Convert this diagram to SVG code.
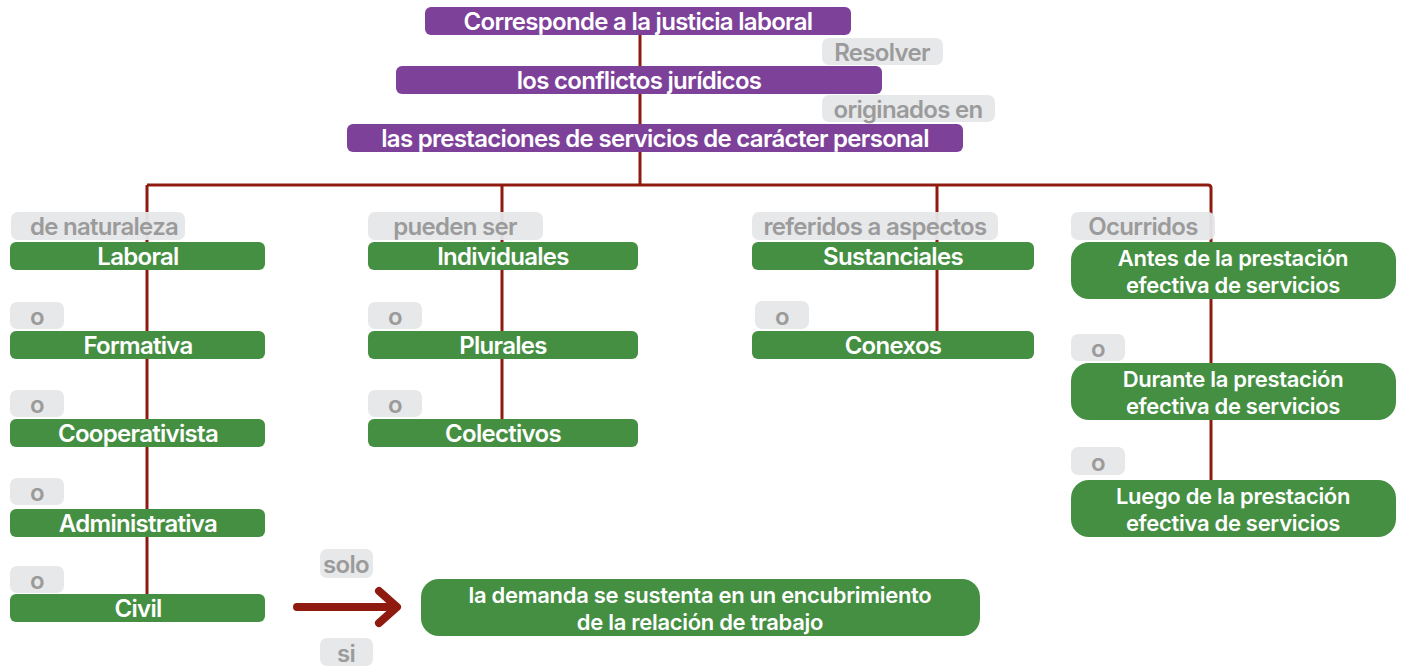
<svg xmlns="http://www.w3.org/2000/svg" width="1402" height="667" viewBox="0 0 1402 667">
<style>
text{font-family:Inter,"Noto Sans","DejaVu Sans",sans-serif;font-weight:600;font-size:24px;text-anchor:middle;letter-spacing:-0.7px}
text.m{font-size:22px;letter-spacing:-0.3px}
.p{fill:#7D4199}
.g{fill:#458F42}
.l{fill:#E6E7E9;opacity:0.95}
.w{fill:#fff}
.t{fill:#9B9B9B}
.c{fill:none;stroke:#8E1A10;stroke-width:3}
</style>
<rect width="1402" height="667" fill="#fff"/>
<g id="connectors">
<path class="c" d="M640 35V185M147 185H1208Q1211 185 1211 188V480M147 185V594M502 185V419M937 185V331"/>
<path d="M297 607H392M379 591L397 607L379 623" fill="none" stroke="#8E1A10" stroke-width="8" stroke-linecap="round" stroke-linejoin="round"/>
</g>
<g id="n1"><rect class="p" x="425" y="7" width="426" height="28" rx="6"/><text class="w" x="638" y="30">Corresponde a la justicia laboral</text></g>
<g id="lbl-resolver"><rect class="l" x="822" y="38" width="121" height="27" rx="7"/><text class="t" x="882" y="61">Resolver</text></g>
<g id="n2"><rect class="p" x="396" y="66" width="486" height="28" rx="6"/><text class="w" x="639" y="89">los conflictos jurídicos</text></g>
<g id="lbl-originados"><rect class="l" x="822" y="95" width="173" height="27" rx="7"/><text class="t" x="908" y="118">originados en</text></g>
<g id="n3"><rect class="p" x="347" y="124" width="616" height="28" rx="6"/><text class="w" x="655" y="147">las prestaciones de servicios de carácter personal</text></g>

<g id="lbl-naturaleza"><rect class="l" x="11" y="212" width="174" height="28" rx="7"/><text class="t" x="104" y="235">de naturaleza</text></g>
<g id="n-laboral"><rect class="g" x="10" y="242" width="255" height="28" rx="6"/><text class="w" x="138" y="265">Laboral</text></g>
<g id="lbl-o1"><rect class="l" x="10" y="302" width="54" height="27" rx="7"/><text class="t" x="37" y="325">o</text></g>
<g id="n-formativa"><rect class="g" x="10" y="331" width="255" height="28" rx="6"/><text class="w" x="138" y="354">Formativa</text></g>
<g id="lbl-o2"><rect class="l" x="10" y="390" width="54" height="27" rx="7"/><text class="t" x="37" y="413">o</text></g>
<g id="n-cooperativista"><rect class="g" x="10" y="419" width="255" height="28" rx="6"/><text class="w" x="138" y="442">Cooperativista</text></g>
<g id="lbl-o3"><rect class="l" x="10" y="478" width="54" height="27" rx="7"/><text class="t" x="37" y="501">o</text></g>
<g id="n-administrativa"><rect class="g" x="10" y="509" width="255" height="28" rx="6"/><text class="w" x="138" y="532">Administrativa</text></g>
<g id="lbl-o4"><rect class="l" x="10" y="566" width="54" height="27" rx="7"/><text class="t" x="37" y="589">o</text></g>
<g id="n-civil"><rect class="g" x="10" y="594" width="255" height="28" rx="6"/><text class="w" x="138" y="617">Civil</text></g>

<g id="lbl-pueden"><rect class="l" x="368" y="212" width="175" height="28" rx="7"/><text class="t" x="455" y="235">pueden ser</text></g>
<g id="n-individuales"><rect class="g" x="368" y="242" width="270" height="28" rx="6"/><text class="w" x="503" y="265">Individuales</text></g>
<g id="lbl-o5"><rect class="l" x="368" y="302" width="54" height="27" rx="7"/><text class="t" x="395" y="325">o</text></g>
<g id="n-plurales"><rect class="g" x="368" y="331" width="270" height="28" rx="6"/><text class="w" x="503" y="354">Plurales</text></g>
<g id="lbl-o6"><rect class="l" x="368" y="390" width="54" height="27" rx="7"/><text class="t" x="395" y="413">o</text></g>
<g id="n-colectivos"><rect class="g" x="368" y="419" width="270" height="28" rx="6"/><text class="w" x="503" y="442">Colectivos</text></g>

<g id="lbl-referidos"><rect class="l" x="752" y="212" width="246" height="28" rx="7"/><text class="t" x="875" y="235">referidos a aspectos</text></g>
<g id="n-sustanciales"><rect class="g" x="752" y="242" width="282" height="28" rx="6"/><text class="w" x="893" y="265">Sustanciales</text></g>
<g id="lbl-o7"><rect class="l" x="755" y="301" width="54" height="28" rx="7"/><text class="t" x="782" y="325">o</text></g>
<g id="n-conexos"><rect class="g" x="752" y="331" width="282" height="28" rx="6"/><text class="w" x="893" y="354">Conexos</text></g>

<g id="lbl-ocurridos"><rect class="l" x="1071" y="212" width="144" height="28" rx="7"/><text class="t" x="1143" y="235">Ocurridos</text></g>
<g id="n-antes"><rect class="g" x="1071" y="242" width="325" height="57" rx="18"/><text class="w m" x="1233" y="266">Antes de la prestación<tspan x="1233" dy="27">efectiva de servicios</tspan></text></g>
<g id="lbl-o8"><rect class="l" x="1071" y="334" width="54" height="27" rx="7"/><text class="t" x="1098" y="357">o</text></g>
<g id="n-durante"><rect class="g" x="1071" y="363" width="325" height="57" rx="18"/><text class="w m" x="1233" y="387">Durante la prestación<tspan x="1233" dy="27">efectiva de servicios</tspan></text></g>
<g id="lbl-o9"><rect class="l" x="1071" y="447" width="54" height="28" rx="7"/><text class="t" x="1098" y="471">o</text></g>
<g id="n-luego"><rect class="g" x="1071" y="480" width="325" height="57" rx="18"/><text class="w m" x="1233" y="504">Luego de la prestación<tspan x="1233" dy="27">efectiva de servicios</tspan></text></g>

<g id="lbl-solo"><rect class="l" x="320" y="549" width="53" height="29" rx="7"/><text class="t" x="346" y="573">solo</text></g>
<g id="lbl-si"><rect class="l" x="320" y="638" width="53" height="28" rx="7"/><text class="t" x="346" y="662">si</text></g>
<g id="n-demanda"><rect class="g" x="421" y="579" width="559" height="57" rx="18"/><text class="w m" x="700" y="603">la demanda se sustenta en un encubrimiento<tspan x="700" dy="27">de la relación de trabajo</tspan></text></g>
</svg>
